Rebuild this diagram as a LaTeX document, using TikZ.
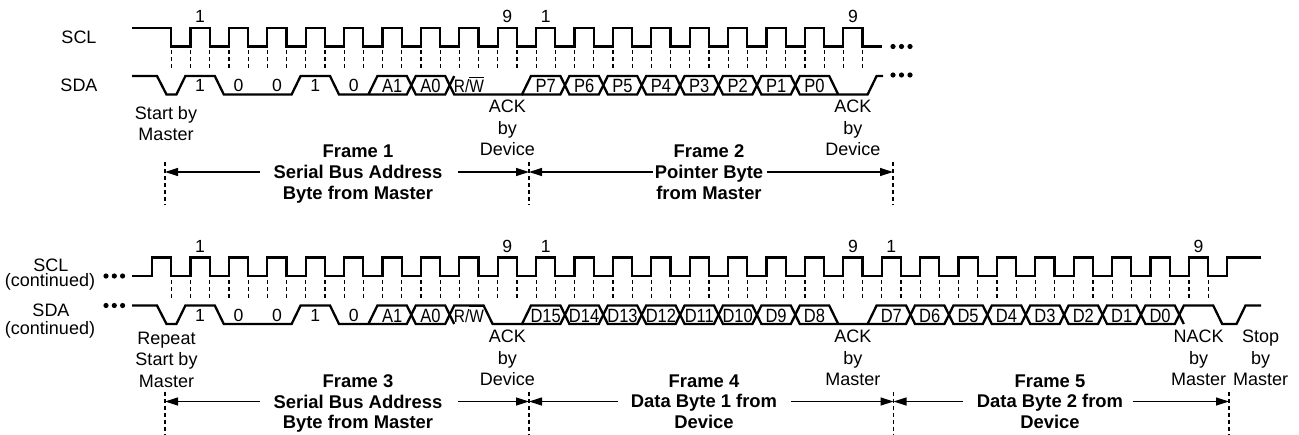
\documentclass[tikz,border=0pt]{standalone}
\usepackage{fontspec}
\setmainfont{Liberation Sans}
\newfontfamily\narrowsans[FakeStretch=0.86]{Liberation Sans}
\usetikzlibrary{arrows.meta}
% clock rising edge, SDA transition and bit centre of bit #1
\newcommand\rx[1]{(152.1+(#1)*38.4)}
\newcommand\trx[1]{(180.9+(#1)*38.4)}
\newcommand\cx[1]{(161.7+(#1)*38.4)}

\begin{document}
\begin{tikzpicture}[x=0.5pt,y=-0.5pt,
	sig/.style={line width=1.15pt},
	dashtick/.style={line width=0.6pt,dash pattern=on 2pt off 1.5pt},
	frarrow/.style={line width=0.6pt,-{Triangle[length=6.5pt,width=4pt]}},
	lbl/.style={font=\fontsize{9}{10.75}\selectfont,align=center,inner sep=0pt},
	bit/.style={font=\fontsize{8.8}{9}\selectfont,inner sep=0pt,anchor=base},
	datalbl/.style={font=\narrowsans\fontsize{9.6}{10}\selectfont,inner sep=0pt,anchor=base},
	frametxt/.style={font=\bfseries\fontsize{9.2}{10.4}\selectfont,align=center,inner sep=0pt,anchor=north}]
\useasboundingbox (0,0) rectangle (1299,434);

%% frames 1 and 2
\node[lbl] (sclA) at (79,37.5) {SCL};
\node[lbl] (sdaA) at (79,85) {SDA};
\draw[sig] (132,28) -- (171.3,28) -- (171.3,46.5)
	\foreach \k in {1,...,18}{ -- ({\rx{\k}},46.5) -- ({\rx{\k}},28) -- ({\rx{\k}+19.2},28) -- ({\rx{\k}+19.2},46.5)}
	-- (882,46.5);
\draw[dashtick] (171.3,50) -- (171.3,70);
\foreach \k in {1,...,18}
	\draw[dashtick] ({\rx{\k}},50) -- ({\rx{\k}},70) ({\rx{\k}+19.2},50) -- ({\rx{\k}+19.2},70);
\foreach \k/\lab in {1/1,9/9,10/1,18/9}
	\node[bit] (nA\k) at ({\cx{\k}},22.7) {\lab};

\draw[sig] (132,76) -- (157,76) -- (166.5,94.5) -- ({\trx{0}-4.5},94.5) -- ({\trx{0}+4.5},76)
	-- ({\trx{1}-4.5},76) -- ({\trx{1}+4.5},94.5) -- ({\trx{3}-4.5},94.5) -- ({\trx{3}+4.5},76)
	-- ({\trx{4}-4.5},76) -- ({\trx{4}+4.5},94.5) -- ({\trx{6}-4.5},94.5) -- ({\trx{6}+4.5},76)
	-- ({\trx{7}-4.5},76) -- ({\trx{7}+4.5},94.5) -- ({\trx{9}-4.5},94.5)
	\foreach \j in {9,11,13,15}{ -- ({\trx{\j}+4.5},76) -- ({\trx{\j+1}-4.5},76) -- ({\trx{\j+1}+4.5},94.5) -- ({\trx{\j+2}-4.5},94.5)}
	-- ({\trx{18}-4.5},94.5) -- ({\trx{18}+4.5},76) -- (883,76);
\draw[sig] ({\trx{5}-4.5},94.5) -- ({\trx{5}+4.5},76) -- ({\trx{6}-4.5},76) -- ({\trx{6}+4.5},94.5)
	-- ({\trx{7}-4.5},94.5) -- ({\trx{7}+4.5},76);
\draw[sig] ({\trx{9}-4.5},94.5)
	\foreach \j in {9,11,13,15}{ -- ({\trx{\j+1}-4.5},94.5) -- ({\trx{\j+1}+4.5},76) -- ({\trx{\j+2}-4.5},76) -- ({\trx{\j+2}+4.5},94.5)};
\foreach \d in {893,901.5,910}{
	\fill (\d,46.5) circle (1.3pt);
	\fill (\d,75) circle (1.3pt);}

\foreach \k/\lab in {1/1,2/0,3/0,4/1,5/0}
	\node[bit] (bA\k) at ({\cx{\k}},91.8) {\lab};
\foreach \k/\lab in {6/A1,7/A0}
	\node[datalbl] (bA\k) at ({\cx{\k}},92.5) {\lab};
\node[datalbl,font=\narrowsans\fontsize{9}{10}\selectfont] (rwA) at ({\cx{8}},92.5) {R/$\overline{\mbox{W}}$};
\foreach \k in {0,...,7}
	\node[datalbl] (pA\k) at ({\cx{17-\k}},92.5) {P\k};

\node[lbl,anchor=north] (startA) at (166,106) {Start by\\Master};
\node[lbl,anchor=north] (ackA1) at ({\cx{9}},100) {ACK\\by\\Device};
\node[lbl,anchor=north] (ackA2) at ({\cx{18}},100) {ACK\\by\\Device};

\node[frametxt] (frA1) at (358,144.5) {Frame 1\\Serial Bus Address\\Byte from Master};
\node[frametxt] (frA2) at (709,144.5) {Frame 2\\Pointer Byte\\from Master};
\coordinate (mA0) at (165,172);
\coordinate (mA1) at (529,172);
\coordinate (mA2) at (893,172);
\foreach \m in {mA0,mA1,mA2}
	\draw[dashtick] ([yshift=5pt]\m) -- ([yshift=-16.5pt]\m);
\draw[frarrow] ([xshift=-6.5pt]frA1.west |- mA0) -- (mA0);
\draw[frarrow] ([xshift=7.5pt]frA1.east |- mA1) -- (mA1);
\draw[frarrow] ([xshift=-0.75pt]frA2.west |- mA1) -- (mA1);
\draw[frarrow] ([xshift=1.75pt]frA2.east |- mA2) -- (mA2);

%% frames 3, 4 and 5
\begin{scope}[shift={(0,229.5)}]
\node[lbl] (sclB) at (51,35.5) {SCL};
\node[lbl] (sclBc) at (50,52.5) {(continued)};
\node[lbl] (sdaB) at (51,80.5) {SDA};
\node[lbl] (sdaBc) at (50,100.5) {(continued)};
\draw[sig] (132,46.5) -- ({\rx{0}},46.5) -- ({\rx{0}},28) -- (171.3,28) -- (171.3,46.5)
	\foreach \k in {1,...,27}{ -- ({\rx{\k}},46.5) -- ({\rx{\k}},28) -- ({\rx{\k}+19.2},28) -- ({\rx{\k}+19.2},46.5)}
	-- ({\rx{28}},46.5) -- ({\rx{28}},28) -- (1261,28);
\draw[dashtick] (171.3,50.5) -- (171.3,70.5);
\foreach \k in {1,...,27}
	\draw[dashtick] ({\rx{\k}},50.5) -- ({\rx{\k}},70.5) ({\rx{\k}+19.2},50.5) -- ({\rx{\k}+19.2},70.5);
\foreach \k/\lab in {1/1,9/9,10/1,18/9,19/1,27/9}
	\node[bit] (nB\k) at ({\cx{\k}},22.7) {\lab};

\draw[sig] (132,76) -- (157,76) -- (166.5,94.5) -- ({\trx{0}-4.5},94.5) -- ({\trx{0}+4.5},76)
	-- ({\trx{1}-4.5},76) -- ({\trx{1}+4.5},94.5) -- ({\trx{3}-4.5},94.5) -- ({\trx{3}+4.5},76)
	-- ({\trx{4}-4.5},76) -- ({\trx{4}+4.5},94.5) -- ({\trx{6}-4.5},94.5) -- ({\trx{6}+4.5},76)
	-- ({\trx{7}-4.5},76) -- ({\trx{7}+4.5},94.5);
\draw[sig] ({\trx{5}-4.5},94.5) -- ({\trx{5}+4.5},76) -- ({\trx{6}-4.5},76) -- ({\trx{6}+4.5},94.5)
	-- ({\trx{7}-4.5},94.5) -- ({\trx{7}+4.5},76) -- ({\trx{8}-4.5},76) -- ({\trx{8}+4.5},94.5) -- ({\trx{9}-4.5},94.5)
	\foreach \j in {9,11,13,15}{ -- ({\trx{\j}+4.5},76) -- ({\trx{\j+1}-4.5},76) -- ({\trx{\j+1}+4.5},94.5) -- ({\trx{\j+2}-4.5},94.5)}
	-- ({\trx{18}-4.5},94.5) -- ({\trx{18}+4.5},76)
	\foreach \j in {19,21,23,25}{ -- ({\trx{\j}-4.5},76) -- ({\trx{\j}+4.5},94.5) -- ({\trx{\j+1}-4.5},94.5) -- ({\trx{\j+1}+4.5},76)}
	-- ({\trx{27}-4.5},76) -- ({\trx{27}+4.5},94.5) -- (1236.5,94.5) -- (1245.5,76) -- (1261,76);
\draw[sig] ({\trx{9}-4.5},94.5)
	\foreach \j in {9,11,13,15}{ -- ({\trx{\j+1}-4.5},94.5) -- ({\trx{\j+1}+4.5},76) -- ({\trx{\j+2}-4.5},76) -- ({\trx{\j+2}+4.5},94.5)}
	({\trx{18}-4.5},94.5)
	\foreach \j in {18,20,22,24}{ -- ({\trx{\j+1}-4.5},94.5) -- ({\trx{\j+1}+4.5},76) -- ({\trx{\j+2}-4.5},76) -- ({\trx{\j+2}+4.5},94.5)};
\foreach \d in {106,114.3,122.6}{
	\fill (\d,46.5) circle (1.3pt);
	\fill (\d,76) circle (1.3pt);}

\foreach \k/\lab in {1/1,2/0,3/0,4/1,5/0}
	\node[bit] (bB\k) at ({\cx{\k}},91.8) {\lab};
\foreach \k/\lab in {6/A1,7/A0}
	\node[datalbl] (bB\k) at ({\cx{\k}},92.5) {\lab};
\node[datalbl,font=\narrowsans\fontsize{9}{10}\selectfont] (rwB) at ({\cx{8}},92.5) {R/$\overline{\mbox{W}}$};
\foreach \k in {8,...,15}
	\node[datalbl] (dB\k) at ({\cx{25-\k}},92.5) {D\k};
\foreach \k in {0,...,7}
	\node[datalbl] (dB\k) at ({\cx{26-\k}},92.5) {D\k};

\node[lbl,anchor=north] (startB) at (166.5,102) {Repeat\\Start by\\Master};
\node[lbl,anchor=north] (ackB1) at ({\cx{9}},100.2) {ACK\\by\\Device};
\node[lbl,anchor=north] (ackB2) at ({\cx{18}},100.2) {ACK\\by\\Master};
\node[lbl,anchor=north] (nackB) at ({\cx{27}},100.2) {NACK\\by\\Master};
\node[lbl,anchor=north] (stopB) at (1260.5,100.2) {Stop\\by\\Master};

\node[frametxt] (frB3) at (358,144.5) {Frame 3\\Serial Bus Address\\Byte from Master};
\node[frametxt] (frB4) at (704,144.5) {Frame 4\\Data Byte 1 from\\Device};
\node[frametxt] (frB5) at (1050,144.5) {Frame 5\\Data Byte 2 from\\Device};
\coordinate (mB0) at (165,172);
\coordinate (mB1) at (529,172);
\coordinate (mB2) at (893.5,172);
\coordinate (mB3) at (1229,172);
\foreach \m in {mB0,mB1,mB2,mB3}
	\draw[dashtick] ([yshift=5pt]\m) -- ([yshift=-16.5pt]\m);
\draw[frarrow] ([xshift=-6.5pt]frB3.west |- mB0) -- (mB0);
\draw[frarrow] ([xshift=7.5pt]frB3.east |- mB1) -- (mB1);
\draw[frarrow] ([xshift=-6.25pt]frB4.west |- mB1) -- (mB1);
\draw[frarrow] ([xshift=6.75pt]frB4.east |- mB2) -- (mB2);
\draw[frarrow] ([xshift=-7pt]frB5.west |- mB2) -- (mB2);
\draw[frarrow] ([xshift=4.5pt]frB5.east |- mB3) -- (mB3);
\end{scope}
\end{tikzpicture}
\end{document}
